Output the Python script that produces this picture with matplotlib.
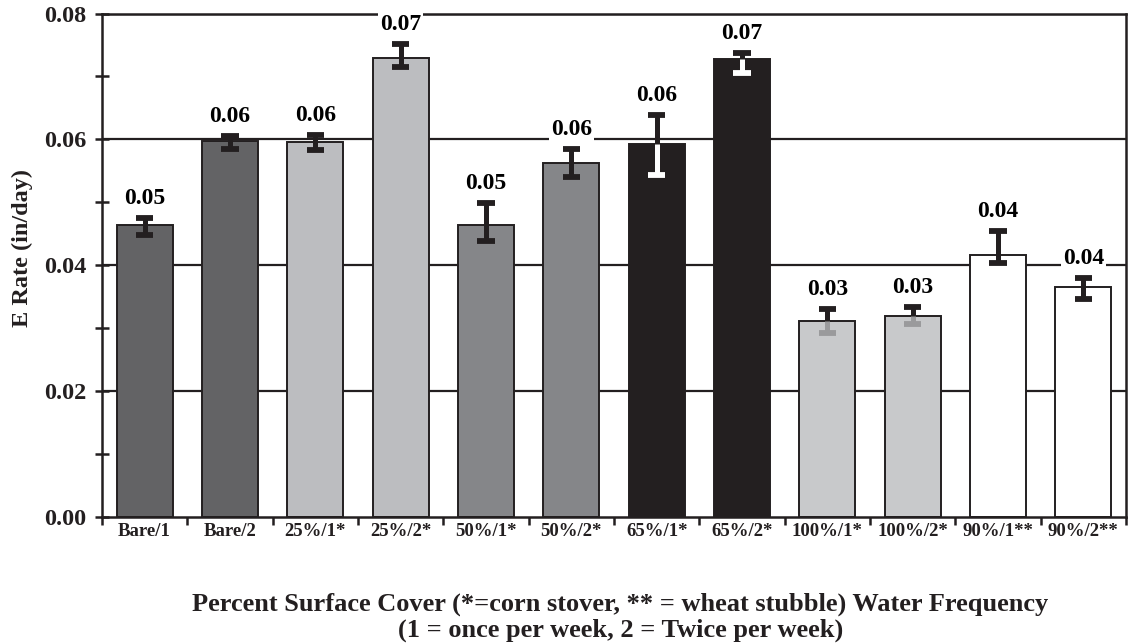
import matplotlib
matplotlib.use("Agg")
import matplotlib.pyplot as plt
import numpy as np

categories = ["Bare/1", "Bare/2", "25%/1*", "25%/2*", "50%/1*", "50%/2*",
              "65%/1*", "65%/2*", "100%/1*", "100%/2*", "90%/1**", "90%/2**"]
values = [0.0464, 0.0598, 0.05955, 0.0730, 0.0464, 0.0563,
          0.0592, 0.0727, 0.0311, 0.0320, 0.0417, 0.0366]
err_up = [0.0011, 0.0008, 0.0011, 0.0021, 0.0035, 0.0022,
          0.0047, 0.0010, 0.0019, 0.0013, 0.0037, 0.0014]
err_low = [0.0016, 0.0014, 0.0013, 0.0015, 0.0026, 0.0022,
           0.0048, 0.0022, 0.0018, 0.0014, 0.0014, 0.0020]
value_labels = ["0.05", "0.06", "0.06", "0.07", "0.05", "0.06",
                "0.06", "0.07", "0.03", "0.03", "0.04", "0.04"]
bar_colors = ["#636365", "#636365", "#bcbdc0", "#bcbdc0", "#858689", "#858689",
              "#231f20", "#231f20", "#c8c9cb", "#c8c9cb", "#ffffff", "#ffffff"]
low_err_colors = ["#231f20", "#231f20", "#231f20", "#231f20", "#231f20", "#231f20",
                  "#ffffff", "#ffffff", "#9a9a9c", "#9a9a9c", "#231f20", "#231f20"]
y_ticks = [0.00, 0.02, 0.04, 0.06, 0.08]
y_tick_labels = ["0.00", "0.02", "0.04", "0.06", "0.08"]

serif = ["Liberation Serif", "DejaVu Serif"]
plt.rcParams["font.family"] = serif
plt.rcParams["font.weight"] = "bold"

fig = plt.figure(figsize=(11.28, 6.43), dpi=100)
ax = fig.add_axes([0.0904, 0.196, 0.9078, 0.783])

x = np.arange(len(categories))
vals = np.array(values)
up = np.array(err_up)
low = np.array(err_low)

ink = "#231f20"

# gridlines
for yv in y_ticks[1:]:
    ax.axhline(yv, color=ink, lw=1.6, zorder=0)

ax.bar(x, vals, width=0.656, color=bar_colors, edgecolor=ink, linewidth=1.4, zorder=2)

# error bars: upper part black, lower part bar-specific colour
cap = 0.1
ax.vlines(x, vals, vals + up, colors=ink, lw=3.6, zorder=3)
ax.hlines(vals + up, x - cap, x + cap, colors=ink, lw=4.2, zorder=3)
ax.vlines(x, vals - low, vals, colors=low_err_colors, lw=3.6, zorder=3)
ax.hlines(vals - low, x - cap, x + cap, colors=low_err_colors, lw=4.2, zorder=3)

for xi, top, lab in zip(x, vals + up, value_labels):
    ax.annotate(lab, (xi, top), xytext=(0, 14), textcoords="offset points",
                ha="center", va="center", fontsize=17, fontweight="bold",
                bbox=dict(facecolor="white", edgecolor="none", pad=1.5), zorder=4)

ax.set_xlim(-0.5, 11.5)
ax.set_ylim(0, 0.08)
ax.set_yticks(y_ticks)
ax.set_yticklabels(y_tick_labels, fontsize=17.5, fontweight="bold")
ax.set_yticks(np.arange(0.01, 0.08, 0.02), minor=True)
ax.tick_params(axis="y", which="major", direction="inout", length=10, width=1.8, pad=6, colors=ink)
ax.tick_params(axis="y", which="minor", direction="inout", length=10, width=1.8, colors=ink)

ax.set_xticks(x)
ax.set_xticklabels(categories, fontsize=13.5, fontweight="bold")
ax.set_xticks(np.arange(-0.5, 12.0, 1.0), minor=True)
ax.tick_params(axis="x", which="major", length=0, pad=4, colors=ink)
ax.tick_params(axis="x", which="minor", direction="out", length=6, width=1.8, colors=ink)

for s in ax.spines.values():
    s.set_color(ink)
    s.set_linewidth(1.8)

fig.text(0.0195, 0.614, "E Rate (in/day)", rotation=90, ha="center", va="center",
         fontsize=17.5, fontweight="bold", color=ink)

fig.text(0.55, 1 - 611 / 643, "Percent Surface Cover (*=corn stover, ** = wheat stubble) Water Frequency",
         ha="center", va="baseline", fontsize=19, fontweight="bold", color=ink)
fig.text(0.55, 1 - 637 / 643, "(1 = once per week, 2 = Twice per week)",
         ha="center", va="baseline", fontsize=19, fontweight="bold", color=ink)

fig.savefig("out.png", dpi=100)
